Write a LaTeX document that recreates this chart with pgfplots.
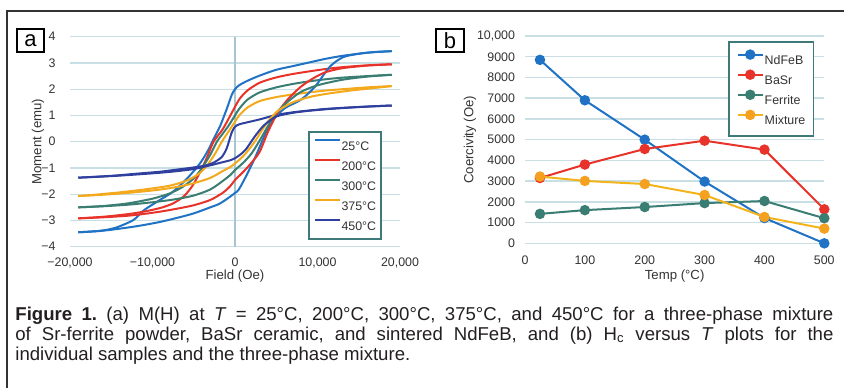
\documentclass[border=0pt]{standalone}
\usepackage{fontspec}
\setmainfont{Liberation Sans}
\usepackage{pgfplots}
\pgfplotsset{compat=1.18}
\definecolor{cA}{HTML}{1F72C4}
\definecolor{cB}{HTML}{E8332A}
\definecolor{cC}{HTML}{3A7D72}
\definecolor{cD}{HTML}{F4A81C}
\definecolor{cE}{HTML}{2F3F9E}
\definecolor{mixline}{HTML}{F3B41B}
\definecolor{mixmark}{HTML}{F6A01F}
\definecolor{gridcol}{HTML}{C8DFE6}
\definecolor{zerocol}{HTML}{A8C5CF}
\definecolor{legcol}{HTML}{3F7A7A}
\definecolor{tickcol}{HTML}{333333}
\definecolor{framecol}{HTML}{333333}
\definecolor{captcol}{HTML}{231F20}
\begin{document}
\frenchspacing
\begin{tikzpicture}[x=0.5pt,y=0.5pt]
\useasboundingbox (0,0) rectangle (844,388);
\draw[framecol, line width=0.7pt] (7,0) -- (7,377) -- (844,377);
% panel labels
\draw[black, line width=0.6pt] (17,359) rectangle (44,336);
\node[font=\fontsize{11}{12}\selectfont] at (30.5,347.5) {a};
\draw[black, line width=0.6pt] (436,359) rectangle (464,336);
\node[font=\fontsize{11}{12}\selectfont] at (450,347.5) {b};

% ---------------- panel a ----------------
\begin{axis}[
 at={(35pt,70.65pt)}, anchor=south west, scale only axis,
 width=165pt, height=105pt,
 xmin=-20000, xmax=20000, ymin=-4, ymax=4,
 scaled ticks=false,
 axis line style={draw=none}, major tick length=0pt,
 xtick={-20000,-10000,0,10000,20000},
 xticklabels={{−20,000},{−10,000},0,{10,000},{20,000}},
 ytick={-4,-3,-2,-1,0,1,2,3,4},
 yticklabels={−4,−3,−2,−1,0,1,2,3,4},
 ymajorgrids, major grid style={gridcol, line width=0.7pt},
 extra x ticks={0}, extra x tick labels={{}},
 extra x tick style={grid=major, major grid style={zerocol, line width=0.7pt}},
 tick label style={font=\fontsize{6.2}{7}\selectfont, text=tickcol},
 xticklabel style={yshift=-2pt}, yticklabel style={xshift=-3.75pt},
 xlabel={Field (Oe)}, ylabel={Moment (emu)},
 label style={font=\fontsize{6.6}{7.5}\selectfont, text=tickcol},
 xlabel style={at={(axis description cs:0.5,-0.14)}, anchor=center},
 ylabel style={at={(axis description cs:-0.097,0.5)}, anchor=center},
 legend cell align=left,
 legend style={at={(0.721,0.551)}, anchor=north west, draw=legcol, line width=0.8pt,
   fill=white, inner xsep=2.4pt, inner ysep=3.2pt, font=\fontsize{6.2}{7}\selectfont,
   text=tickcol, row sep=2.8pt, column sep=0.5pt,
   nodes={inner sep=0pt, text height=6pt, text depth=1.2pt}},
 legend image code/.code={\draw[#1] (0pt,2.6pt) -- (12.5pt,2.6pt);},
 every axis plot/.append style={line width=1pt, smooth, tension=0.45, no markers},
]
% 25 C
\addplot[cA] coordinates {(19000,3.45)(16000,3.39)(13000,3.27)(11000,3.16)(9000,3.02)(7000,2.88)(5000,2.74)(3000,2.52)(1500,2.32)(500,2.15)(0,2.0)(-400,1.78)(-1000,1.25)(-1800,0.6)(-2600,0.1)(-3300,-0.35)(-4300,-0.85)(-5800,-1.4)(-7500,-1.9)(-9100,-2.22)(-11000,-2.6)(-12300,-2.98)(-14500,-3.28)(-16500,-3.4)(-19000,-3.45)};
\addlegendentry{25°C}
% 200 C
\addplot[cB] coordinates {(19000,2.95)(16000,2.91)(13000,2.84)(11000,2.77)(9000,2.68)(7000,2.58)(5000,2.45)(3000,2.25)(1500,1.95)(600,1.65)(0,1.33)(-700,0.92)(-1500,0.47)(-2600,0)(-3400,-0.6)(-4300,-1.2)(-5200,-1.7)(-6200,-2.08)(-7500,-2.35)(-9000,-2.52)(-11000,-2.66)(-13000,-2.76)(-16000,-2.86)(-19000,-2.92)};
\addlegendentry{200°C}
% 300 C
\addplot[cC] coordinates {(19000,2.55)(16000,2.5)(13000,2.44)(11000,2.38)(9000,2.3)(7000,2.2)(5000,2.07)(3000,1.88)(1500,1.6)(500,1.25)(0,1.0)(-800,0.6)(-1500,0.3)(-2200,0)(-3000,-0.5)(-4000,-1.0)(-5000,-1.4)(-6500,-1.75)(-8000,-1.98)(-10000,-2.17)(-13000,-2.35)(-16000,-2.45)(-19000,-2.5)};
\addlegendentry{300°C}
% 375 C
\addplot[cD] coordinates {(19000,2.12)(16000,2.07)(13000,2.0)(11000,1.95)(9000,1.88)(7000,1.8)(5000,1.7)(3000,1.55)(1500,1.3)(500,1.0)(0,0.76)(-800,0.38)(-1600,0)(-2500,-0.5)(-3500,-0.95)(-4500,-1.25)(-6000,-1.5)(-8000,-1.68)(-11000,-1.82)(-14000,-1.93)(-17000,-2.02)(-19000,-2.07)};
\addlegendentry{375°C}
% 450 C
\addplot[cE] coordinates {(19000,1.38)(16000,1.34)(13000,1.29)(11000,1.25)(9000,1.19)(7000,1.12)(5000,1.02)(3000,0.85)(1500,0.74)(500,0.66)(0,0.57)(-400,0.35)(-1000,-0.25)(-1600,-0.58)(-2500,-0.78)(-3500,-0.9)(-5000,-0.98)(-7000,-1.06)(-9000,-1.14)(-12000,-1.22)(-15000,-1.3)(-19000,-1.37)};
\addlegendentry{450°C}
% lower branches
\addplot[cA, forget plot] coordinates {(-19000,-3.45)(-16000,-3.39)(-13000,-3.27)(-11000,-3.17)(-9000,-3.05)(-7000,-2.9)(-5000,-2.73)(-3000,-2.5)(-1800,-2.35)(-400,-2.05)(0,-1.95)(400,-1.85)(1200,-1.4)(2400,-0.63)(3400,0.1)(4400,0.75)(6000,1.27)(8000,1.6)(9700,2.1)(11500,2.86)(13100,3.22)(15000,3.35)(17000,3.42)(19000,3.45)};
\addplot[cB, forget plot] coordinates {(-19000,-2.92)(-16000,-2.88)(-13000,-2.82)(-11000,-2.75)(-9000,-2.66)(-7000,-2.55)(-5000,-2.42)(-3000,-2.22)(-1500,-1.95)(-600,-1.7)(0,-1.46)(1000,-1.15)(2000,-0.8)(3000,-0.38)(4000,0.38)(5200,1.12)(6500,1.65)(8000,2.1)(9500,2.42)(11000,2.65)(13000,2.8)(16000,2.9)(19000,2.95)};
\addplot[cC, forget plot] coordinates {(-19000,-2.5)(-16000,-2.46)(-13000,-2.4)(-11000,-2.34)(-9000,-2.27)(-7000,-2.18)(-5000,-2.05)(-3000,-1.82)(-1500,-1.5)(-500,-1.25)(0,-1.08)(1000,-0.8)(2000,-0.45)(3000,0.05)(4000,0.6)(5000,1.1)(6500,1.55)(8000,1.9)(10000,2.15)(13000,2.36)(16000,2.48)(19000,2.55)};
\addplot[cD, forget plot] coordinates {(-19000,-2.07)(-16000,-2.02)(-13000,-1.95)(-11000,-1.89)(-9000,-1.82)(-7000,-1.72)(-5000,-1.58)(-3000,-1.38)(-1500,-1.12)(-500,-0.95)(0,-0.83)(1000,-0.55)(1800,-0.25)(2500,0.05)(3300,0.45)(4200,0.85)(5300,1.2)(7000,1.5)(9000,1.7)(11000,1.82)(14000,1.95)(17000,2.05)(19000,2.12)};
\addplot[cE, forget plot] coordinates {(-19000,-1.37)(-15000,-1.31)(-12000,-1.25)(-9000,-1.18)(-7000,-1.12)(-5000,-1.04)(-3000,-0.9)(-1500,-0.78)(-500,-0.7)(0,-0.63)(600,-0.5)(1300,-0.3)(2400,0.2)(3500,0.62)(5000,0.96)(7000,1.1)(9000,1.18)(12000,1.26)(15000,1.32)(19000,1.38)};
\end{axis}

% ---------------- panel b ----------------
\begin{axis}[
 at={(262.5pt,72.35pt)}, anchor=south west, scale only axis,
 width=149.65pt, height=103.65pt,
 xmin=0, xmax=500, ymin=0, ymax=10000, clip=false,
 scaled ticks=false,
 axis line style={draw=none}, major tick length=0pt,
 xtick={0,100,200,300,400,500},
 xticklabels={0,100,200,300,400,500},
 ytick={0,1000,2000,3000,4000,5000,6000,7000,8000,9000,10000},
 yticklabels={0,1000,2000,3000,4000,5000,6000,7000,8000,9000,{10,000}},
 ymajorgrids, major grid style={gridcol, line width=0.7pt},
 tick label style={font=\fontsize{6.2}{7}\selectfont, text=tickcol},
 xticklabel style={yshift=-2.5pt}, yticklabel style={xshift=-1.5pt},
 xlabel={Temp (°C)}, ylabel={Coercivity (Oe)},
 label style={font=\fontsize{6.6}{7.5}\selectfont, text=tickcol},
 xlabel style={at={(axis description cs:0.5,-0.158)}, anchor=center},
 ylabel style={at={(axis description cs:-0.184,0.5)}, anchor=center},
 legend cell align=left,
 legend style={at={(0.678,0.976)}, anchor=north west, draw=legcol, line width=0.8pt,
   fill=white, inner xsep=4pt, inner ysep=4.3pt, font=\fontsize{6.2}{7}\selectfont,
   text=tickcol, row sep=1.75pt, column sep=0.5pt,
   nodes={inner sep=0pt, text height=6pt, text depth=1.2pt}},
 legend image code/.code={\draw[mark repeat=2, mark phase=2, #1] plot coordinates {(0pt,2.6pt)(6.25pt,2.6pt)(12.5pt,2.6pt)};},
 every axis plot/.append style={line width=1pt, mark=*, mark size=2.1pt},
]
\addplot[cA, mark options={fill=cA, draw=cA}] coordinates {(25,8850)(100,6900)(200,5000)(300,2980)(400,1220)(500,0)};
\addlegendentry{NdFeB}
\addplot[cB, mark options={fill=cB, draw=cB}] coordinates {(25,3150)(100,3800)(200,4550)(300,4950)(400,4520)(500,1640)};
\addlegendentry{BaSr}
\addplot[cC, mark options={fill=cC, draw=cC}] coordinates {(25,1420)(100,1600)(200,1750)(300,1940)(400,2040)(500,1210)};
\addlegendentry{Ferrite}
\addplot[mixline, mark options={fill=mixmark, draw=mixmark}] coordinates {(25,3220)(100,3010)(200,2860)(300,2330)(400,1270)(500,710)};
\addlegendentry{Mixture}
\end{axis}

% caption
\node[anchor=north west, inner sep=0pt, text width=409pt, align=justify,
      font=\fontsize{9.3}{9.85}\selectfont, text=captcol] at (15,81)
{\frenchspacing\textbf{Figure 1.} (a) M(H) at \textit{T} = 25°C, 200°C, 300°C, 375°C, and 450°C for a three-phase mixture\linebreak
of Sr-ferrite powder, BaSr ceramic, and sintered NdFeB, and (b) H\textsubscript{c} versus \textit{T} plots for the\linebreak
individual samples and the three-phase mixture.};
\end{tikzpicture}
\end{document}
